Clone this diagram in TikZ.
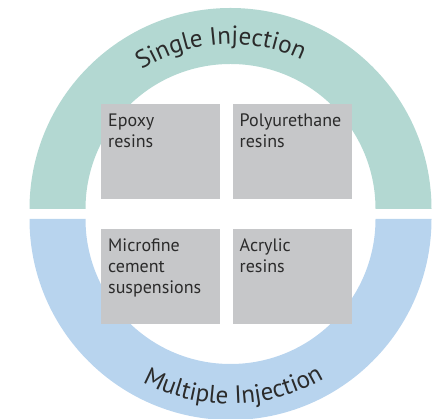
\documentclass[tikz,border=0pt]{standalone}
\usepackage{fontspec}
\setmainfont{PT Sans}
\usetikzlibrary{decorations.text}
\definecolor{tealband}{HTML}{B3D8D2}
\definecolor{blueband}{HTML}{B8D4EE}
\definecolor{boxgray}{HTML}{C6C7C9}
\definecolor{txt}{HTML}{2B2B2B}
\newcommand{\bandfont}{\fontsize{25}{29}\selectfont\color{txt}}
\newcommand{\boxlines}[1]{\parbox[t]{110pt}{\raggedright #1}}
\tikzset{
  x=1pt, y=1pt,
  grbox/.style={fill=boxgray, draw=none, minimum width=119pt, minimum height=95pt, anchor=north west, inner sep=0pt},
  boxtext/.style={anchor=base west, inner sep=0pt, text=txt, font=\fontsize{18}{21}\selectfont, xshift=7pt, yshift=-22.7pt},
  bandtext/.style={decorate, decoration={text along path, text align=center, text={|\bandfont|#1}}}
}
\begin{document}
\begin{tikzpicture}
\useasboundingbox (0,0) rectangle (446,419);
% bands
\fill[tealband] (29.5,210) arc[start angle=180, end angle=0, radius=201] -- (375.5,210) arc[start angle=0, end angle=180, radius=145] -- cycle;
\fill[blueband] (29.5,200) arc[start angle=180, end angle=360, radius=201] -- (375.5,200) arc[start angle=360, end angle=180, radius=145] -- cycle;
% curved texts
\path[bandtext={Single Injection}] (230.5,210) ++(183.5:165) arc[start angle=183.5, end angle=3.5, radius=165];
\path[bandtext={Multiple Injection}] (230.5,200) ++(181:185) arc[start angle=181, end angle=361, radius=185];
% boxes
\node[grbox, label={[boxtext]north west:\boxlines{Epoxy\\resins}}] (epoxy) at (101,315) {};
\node[grbox, label={[boxtext]north west:\boxlines{Polyurethane\\resins}}] (pu) at (232.5,315) {};
\node[grbox, label={[boxtext]north west:\boxlines{Microfine\\cement\\suspensions}}] (micro) at (101,190) {};
\node[grbox, label={[boxtext]north west:\boxlines{Acrylic\\resins}}] (acryl) at (232.5,190) {};
\end{tikzpicture}
\end{document}
